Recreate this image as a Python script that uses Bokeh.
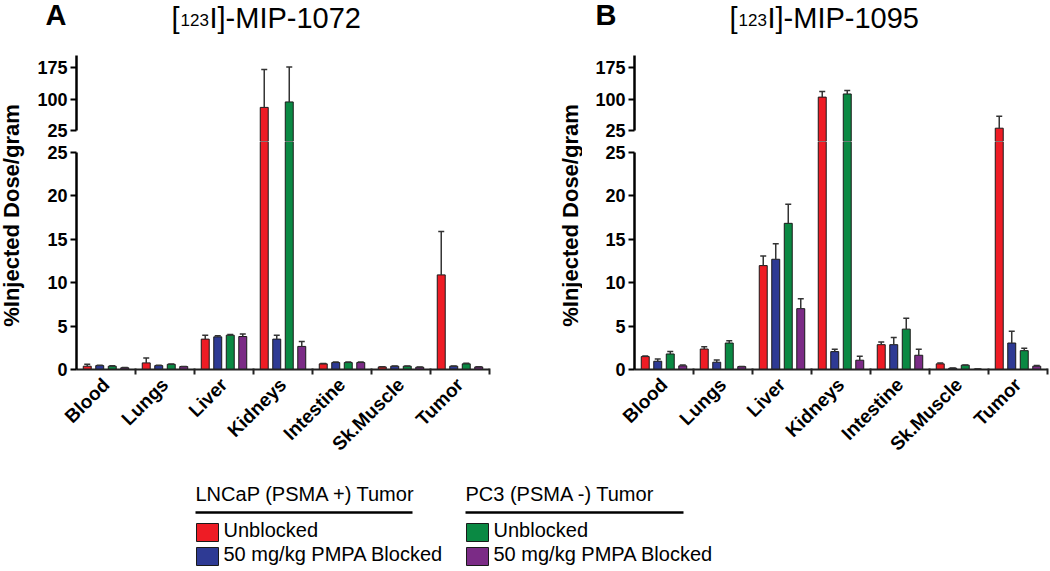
import numpy as np
from bokeh.plotting import figure
from bokeh.layouts import row, column
from bokeh.models import ColumnDataSource, Range1d, FixedTicker, Whisker, TeeHead, Label
from bokeh.embed import file_html
from bokeh.resources import INLINE

# ---------------- data ----------------
organs = ["Blood", "Lungs", "Liver", "Kidneys", "Intestine", "Sk.Muscle", "Tumor"]
series_labels = ["Unblocked", "50 mg/kg PMPA Blocked", "Unblocked", "50 mg/kg PMPA Blocked"]
group_labels = ["LNCaP (PSMA +) Tumor", "PC3 (PSMA -) Tumor"]
colors = ["#EE1C25", "#2E3A94", "#0A8943", "#7B2B86"]

# Panel A: [123I]-MIP-1072 (%ID/g)
a_lncap_unblocked = [0.38, 0.76, 3.50, 80.0, 0.65, 0.30, 10.9]
a_lncap_unblocked_err = [0.22, 0.57, 0.45, 90.0, 0.05, 0.03, 5.0]
a_lncap_blocked = [0.45, 0.45, 3.76, 3.50, 0.80, 0.38, 0.38]
a_lncap_blocked_err = [0.05, 0.03, 0.12, 0.45, 0.05, 0.03, 0.03]
a_pc3_unblocked = [0.38, 0.60, 3.95, 93.0, 0.80, 0.38, 0.65]
a_pc3_unblocked_err = [0.05, 0.03, 0.08, 83.0, 0.05, 0.03, 0.07]
a_pc3_blocked = [0.20, 0.34, 3.80, 2.66, 0.80, 0.27, 0.30]
a_pc3_blocked_err = [0.02, 0.02, 0.30, 0.57, 0.05, 0.02, 0.02]

# Panel B: [123I]-MIP-1095 (%ID/g)
b_lncap_unblocked = [1.49, 2.36, 11.97, 104.5, 2.86, 0.65, 30.5]
b_lncap_unblocked_err = [0.07, 0.27, 1.10, 13.3, 0.30, 0.11, 28.5]
b_lncap_blocked = [0.95, 0.84, 12.70, 2.06, 2.86, 0.15, 3.05]
b_lncap_blocked_err = [0.27, 0.26, 1.80, 0.26, 0.84, 0.02, 1.37]
b_pc3_unblocked = [1.79, 3.05, 16.84, 112.0, 4.65, 0.50, 2.17]
b_pc3_unblocked_err = [0.27, 0.27, 2.20, 8.5, 1.25, 0.02, 0.27]
b_pc3_blocked = [0.42, 0.34, 7.01, 1.07, 1.64, 0.05, 0.38]
b_pc3_blocked_err = [0.11, 0.02, 1.15, 0.45, 0.68, 0.01, 0.08]

lower_ticks = [0, 5, 10, 15, 20, 25]
upper_ticks = [25, 100, 175]
BREAK = 25

# ---------------- style / layout constants ----------------
FONT = "Liberation Sans"
OFFSETS = [-0.318, -0.106, 0.106, 0.318]
BAR_W = 0.135
UP_H, LO_FRAME_H, LO_BOTTOM = 86, 228, 96
LO_PX = 217 / 25.0              # px per unit, lower segment
UP_PX = 63 / 150.0              # px per unit, upper segment
LO_END = 25 + 11 / LO_PX        # lower frame reaches 11px above its "25" tick
UP_START = 25 - 11 / UP_PX      # upper frame reaches 11px below its "25" tick
UP_END = 175 + 12 / UP_PX
TITLE_H = 55
TOTAL_W, TOTAL_H = 1050, 571


def style_axis(ax):
    ax.axis_line_width = 2.5
    ax.axis_line_color = "black"
    ax.major_tick_line_width = 2
    ax.major_tick_out = 6
    ax.major_tick_in = 0
    ax.minor_tick_line_color = None
    ax.major_label_text_font = FONT
    ax.major_label_text_font_style = "bold"
    ax.major_label_text_font_size = "18px"
    ax.major_label_text_color = "black"
    ax.major_label_standoff = 3


def make_panel(means, errs, frame_w, left_b, right_b):
    width = left_b + frame_w + right_b
    xr = Range1d(-0.5, len(organs) - 0.5)
    up = figure(width=width, height=UP_H, x_range=xr, y_range=Range1d(UP_START, UP_END),
                min_border_left=left_b, min_border_right=right_b, min_border_top=0,
                min_border_bottom=0, toolbar_location=None, output_backend="svg",
                x_axis_location=None)
    lo = figure(width=width, height=LO_FRAME_H + LO_BOTTOM, x_range=xr,
                y_range=Range1d(0, LO_END),
                min_border_left=left_b, min_border_right=right_b, min_border_top=0,
                min_border_bottom=LO_BOTTOM, toolbar_location=None, output_backend="svg")
    for f in (up, lo):
        f.grid.visible = False
        f.outline_line_color = None
        f.background_fill_color = "white"
        f.border_fill_color = "white"

    for k, (m, e) in enumerate(zip(means, errs)):
        xs = [i + OFFSETS[k] for i in range(len(organs))]
        hi = [a + b for a, b in zip(m, e)]
        lo.vbar(x=xs, top=m, bottom=0, width=BAR_W, fill_color=colors[k],
                line_color="#1a1a1a", line_width=1)
        big = [i for i in range(len(m)) if m[i] > BREAK]
        small = [i for i in range(len(m)) if m[i] <= BREAK]
        if big:
            up.vbar(x=[xs[i] for i in big], top=[m[i] for i in big], bottom=UP_START - 40,
                    width=BAR_W, fill_color=colors[k], line_color="#1a1a1a", line_width=1)
            src_u = ColumnDataSource(dict(base=[xs[i] for i in big], lower=[m[i] for i in big],
                                          upper=[hi[i] for i in big]))
            up.add_layout(Whisker(source=src_u, base="base", lower="lower", upper="upper",
                                  lower_head=None,
                                  upper_head=TeeHead(size=6, line_color="#333333", line_width=1.5),
                                  line_color="#333333", line_width=1.5, level="glyph"))
        src_l = ColumnDataSource(dict(base=[xs[i] for i in small], lower=[m[i] for i in small],
                                      upper=[hi[i] for i in small]))
        lo.add_layout(Whisker(source=src_l, base="base", lower="lower", upper="upper",
                              lower_head=None,
                              upper_head=TeeHead(size=6, line_color="#333333", line_width=1.5),
                              line_color="#333333", line_width=1.5, level="glyph"))

    style_axis(up.yaxis[0])
    up.yaxis.ticker = FixedTicker(ticks=upper_ticks)
    up.yaxis.bounds = (BREAK, UP_END)

    style_axis(lo.yaxis[0])
    lo.yaxis.ticker = FixedTicker(ticks=lower_ticks)
    lo.yaxis.bounds = (0, BREAK)

    xa = lo.xaxis[0]
    style_axis(xa)
    xa.major_label_text_font_size = "19px"
    xa.axis_line_width = 2
    xa.axis_line_color = "#222222"
    xa.ticker = FixedTicker(ticks=list(range(len(organs))),
                            minor_ticks=[i + 0.5 for i in range(len(organs))])
    xa.major_label_overrides = {i: organs[i] for i in range(len(organs))}
    xa.major_tick_line_color = None
    xa.minor_tick_line_color = "#222222"
    xa.minor_tick_line_width = 2
    xa.minor_tick_out = 5
    xa.minor_tick_in = 1
    xa.major_label_orientation = np.pi / 4
    xa.major_label_standoff = 6
    return column(up, lo)


def blank(w, h):
    f = figure(width=w, height=h, x_range=Range1d(0, w), y_range=Range1d(0, h),
               min_border=0, toolbar_location=None, output_backend="svg",
               x_axis_location=None, y_axis_location=None)
    f.grid.visible = False
    f.outline_line_color = None
    return f


ROW_H = UP_H + LO_FRAME_H + LO_BOTTOM

# titles band
title_fig = blank(TOTAL_W, TITLE_H)
for letter, lx, tx, name in (("A", 45, 171, "I]-MIP-1072"), ("B", 595, 729, "I]-MIP-1095")):
    title_fig.add_layout(Label(x=lx, y=25, text=letter, text_font=FONT, text_font_size="29px",
                               text_font_style="bold", text_color="black"))
    title_fig.add_layout(Label(x=tx, y=22, text="[", text_font=FONT, text_font_size="29px",
                               text_color="black"))
    title_fig.add_layout(Label(x=tx + 9, y=30, text="123", text_font=FONT, text_font_size="17px",
                               text_color="black"))
    title_fig.add_layout(Label(x=tx + 38, y=22, text=name, text_font=FONT, text_font_size="29px",
                               text_color="black"))


def ylabel_fig(w, cx):
    f = blank(w, ROW_H)
    f.add_layout(Label(x=cx, y=ROW_H - 160, text="%Injected Dose/gram", angle=np.pi / 2,
                       text_align="center", text_baseline="middle", text_font=FONT,
                       text_font_size="22px", text_font_style="bold", text_color="black"))
    return f


panelA = make_panel([a_lncap_unblocked, a_lncap_blocked, a_pc3_unblocked, a_pc3_blocked],
                    [a_lncap_unblocked_err, a_lncap_blocked_err, a_pc3_unblocked_err,
                     a_pc3_blocked_err], 413, 46, 67)
panelB = make_panel([b_lncap_unblocked, b_lncap_blocked, b_pc3_unblocked, b_pc3_blocked],
                    [b_lncap_unblocked_err, b_lncap_blocked_err, b_pc3_unblocked_err,
                     b_pc3_blocked_err], 413, 52, 3)

# legend band
LEG_H = TOTAL_H - TITLE_H - ROW_H
leg = blank(TOTAL_W, LEG_H)
for g, gx, line_w in ((0, 195, 217), (1, 465, 218)):
    leg.add_layout(Label(x=gx, y=LEG_H - 39, text=group_labels[g], text_font=FONT,
                         text_font_size="20px", text_color="black"))
    leg.segment(x0=[gx], x1=[gx + line_w], y0=[LEG_H - 47], y1=[LEG_H - 47],
                line_color="black", line_width=2.5)
    for r in range(2):
        k = 2 * g + r
        top = LEG_H - 58 - r * 24
        leg.quad(left=[gx + 1], right=[gx + 23], top=[top], bottom=[top - 18],
                 fill_color=colors[k], line_color="#1a1a1a", line_width=1)
        leg.add_layout(Label(x=gx + 28, y=top - 17, text=series_labels[k], text_font=FONT,
                             text_font_size="20px", text_color="black"))

layout = column(title_fig,
                row(ylabel_fig(30, 11), panelA, ylabel_fig(26, 14), panelB),
                leg)

open("out.html", "w").write(file_html(layout, INLINE, title="Biodistribution"))
